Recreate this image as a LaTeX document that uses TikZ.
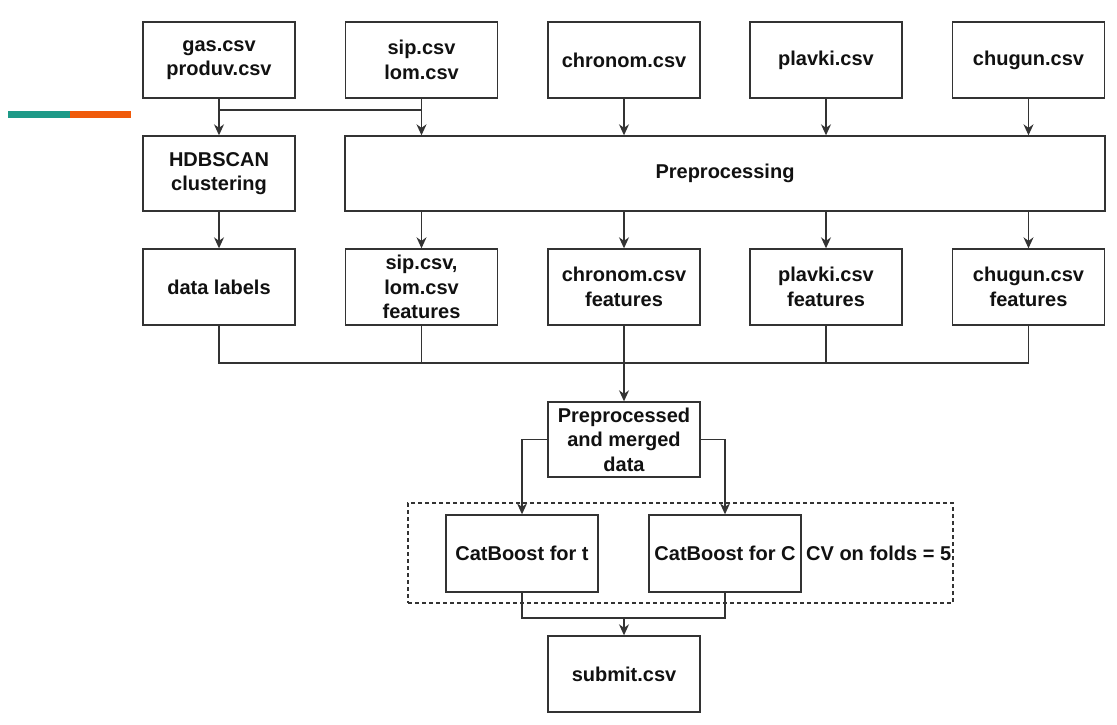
\documentclass[tikz,border=0pt]{standalone}
\usepackage{fontspec}
\setmainfont{Liberation Sans}
\usetikzlibrary{arrows.meta}
\definecolor{ln}{HTML}{333333}
\definecolor{tx}{HTML}{111111}
\definecolor{barteal}{HTML}{1E9A88}
\definecolor{barorange}{HTML}{F05A0A}
\tikzset{
  box/.style={draw=ln, line width=1.4pt, rectangle, inner sep=0pt, align=center,
    minimum width=152pt, minimum height=76pt, text=tx,
    font=\fontsize{20}{24.5}\selectfont\bfseries},
  conn/.style={draw=ln, line width=1.3pt},
  arr/.style={conn, -{Stealth[length=11pt,width=10pt]}},
}
\begin{document}
\begin{tikzpicture}[x=1pt,y=-1pt]
\useasboundingbox (0,0) rectangle (1117,725);
\fill[white] (0,0) rectangle (1117,725);
% decorative bar
\fill[barteal] (8,111) rectangle (70,118);
\fill[barorange] (70,111) rectangle (131,118);
% row 1
\node[box] (gas) at (219,60) {gas.csv\\produv.csv};
\node[box] (sip) at (421.5,60) {sip.csv\\lom.csv};
\node[box] (chr) at (624,60) {chronom.csv};
\node[box] (plv) at (826,60) {plavki.csv};
\node[box] (chg) at (1028.5,60) {chugun.csv};
% row 2
\node[box, minimum height=75pt] (hdb) at (219,173.5) {HDBSCAN\\clustering};
\node[box, minimum width=760pt, minimum height=75pt] (prep) at (725,173.5) {Preprocessing};
% row 3
\node[box] (lab) at (219,287) {data labels};
\node[box] (sipf) at (421.5,287) {sip.csv,\\lom.csv\\features};
\node[box] (chrf) at (624,287) {chronom.csv\\features};
\node[box] (plvf) at (826,287) {plavki.csv\\features};
\node[box] (chgf) at (1028.5,287) {chugun.csv\\features};
% merged
\node[box, minimum height=75pt] (mrg) at (624,439.5) {Preprocessed\\and merged\\data};
% dashed group
\node[draw=ln, line width=1.1pt, dash pattern=on 4pt off 3pt, rectangle, inner sep=0pt,
  minimum width=545pt, minimum height=100pt] (grp) at (680.5,553) {};
\node[box, minimum height=77pt] (cbt) at (522,553.5) {CatBoost for t};
\node[box, minimum height=77pt] (cbc) at (725,553.5) {CatBoost for C};
\node[text=tx, font=\fontsize{20}{24}\selectfont\bfseries, inner sep=0pt, anchor=west] (cv) at (806,553.5) {CV on folds = 5};
% submit
\node[box] (sub) at (624,674) {submit.csv};
% junction coordinates
\coordinate (j1) at (0,110);
\coordinate (j2) at (0,363);
\coordinate (j3) at (0,618);
% row1 -> row2
\draw[arr] (gas.south) -- (hdb.north);
\draw[conn] (gas.south |- j1) -- (sip.south |- j1);
\draw[arr] (sip.south) -- (sip.south |- prep.north);
\draw[arr] (chr.south) -- (chr.south |- prep.north);
\draw[arr] (plv.south) -- (plv.south |- prep.north);
\draw[arr] (chg.south) -- (chg.south |- prep.north);
% row2 -> row3
\draw[arr] (hdb.south) -- (lab.north);
\draw[arr] (prep.south -| sipf.north) -- (sipf.north);
\draw[arr] (prep.south -| chrf.north) -- (chrf.north);
\draw[arr] (prep.south -| plvf.north) -- (plvf.north);
\draw[arr] (prep.south -| chgf.north) -- (chgf.north);
% row3 -> merged
\draw[conn] (lab.south) -- (lab.south |- j2) -- (chgf.south |- j2) -- (chgf.south);
\draw[conn] (sipf.south) -- (sipf.south |- j2);
\draw[conn] (chrf.south) -- (chrf.south |- j2);
\draw[conn] (plvf.south) -- (plvf.south |- j2);
\draw[arr] (mrg.north |- j2) -- (mrg.north);
% merged -> catboost
\draw[arr] (mrg.west) -| (cbt.north);
\draw[arr] (mrg.east) -| (cbc.north);
% catboost -> submit
\draw[conn] (cbt.south) -- (cbt.south |- j3) -- (cbc.south |- j3) -- (cbc.south);
\draw[arr] (sub.north |- j3) -- (sub.north);
\end{tikzpicture}
\end{document}
